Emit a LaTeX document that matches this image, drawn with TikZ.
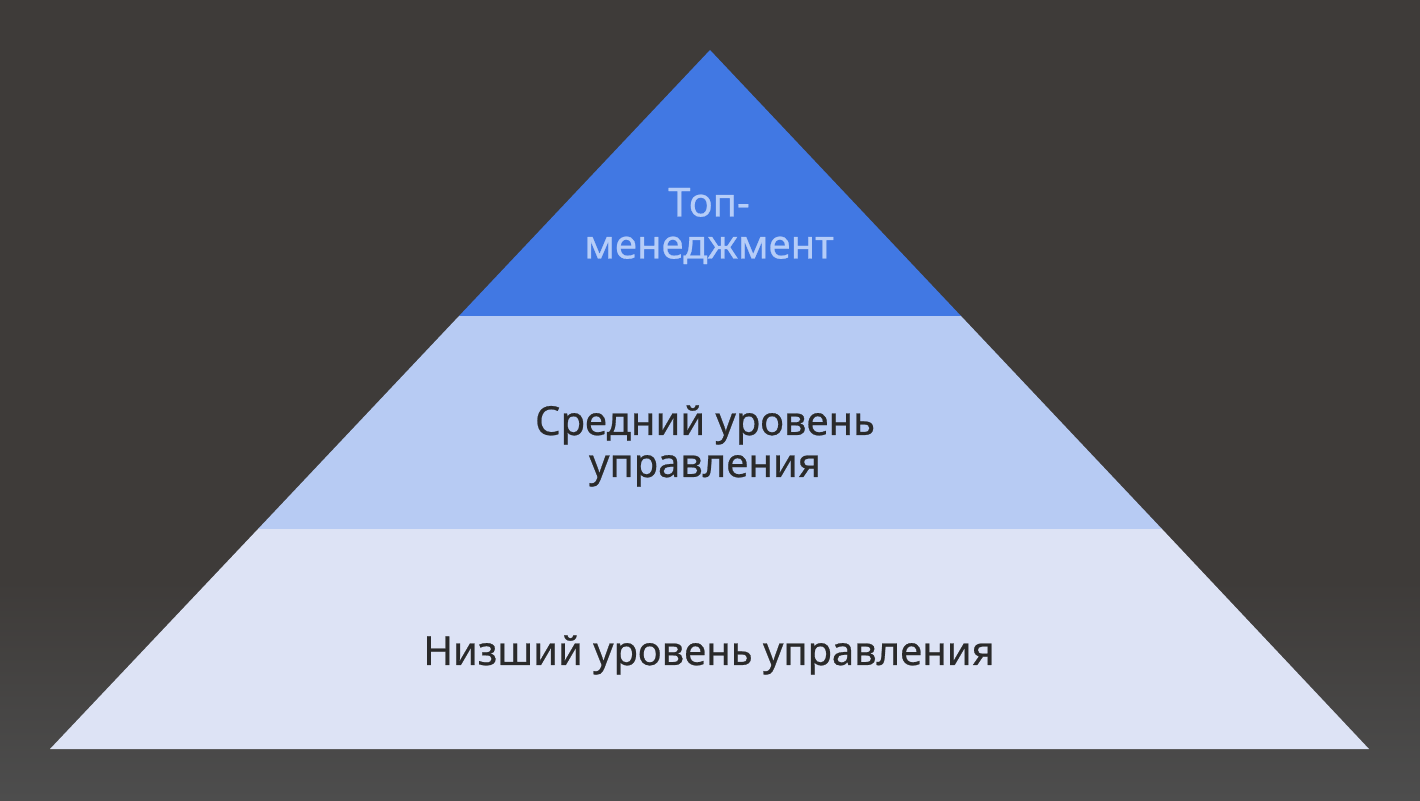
\documentclass[tikz,border=0pt]{standalone}
\usepackage{fontspec}
\setmainfont[FakeBold=0.6]{Noto Sans}
\definecolor{bgtop}{HTML}{3E3B39}
\definecolor{bgbot}{HTML}{4D4D4D}
\definecolor{topband}{HTML}{4178E3}
\definecolor{midband}{HTML}{B7CBF3}
\definecolor{lowband}{HTML}{DDE3F5}
\definecolor{toptext}{HTML}{B6CDF8}
\definecolor{darktext}{HTML}{2A2A2A}
\begin{document}
\begin{tikzpicture}[x=1pt,y=1pt,
  lbl/.style={align=center,font=\fontsize{40}{42}\selectfont,inner sep=0pt}]
\useasboundingbox (0,0) rectangle (1420,800);
\fill[bgtop] (0,0) rectangle (1420,800);
\shade[top color=bgtop,bottom color=bgbot] (0,0) rectangle (1420,220);
% pyramid corners
\coordinate (apex) at (710,750);
\coordinate (bl) at (50,51);
\coordinate (br) at (1369,51);
\coordinate (l1) at (459,484);
\coordinate (r1) at (961,484);
\coordinate (l2) at (258,271);
\coordinate (r2) at (1162,271);
\fill[lowband] (l2) -- (r2) -- (br) -- (bl) -- cycle;
\fill[midband] (l1) -- (r1) -- (r2) -- (l2) -- cycle;
\fill[topband] (apex) -- (r1) -- (l1) -- cycle;
\node[lbl,text=toptext] (top) at (709,574) {Топ-\\менеджмент};
\node[lbl,text=darktext] (mid) at (705,354) {Средний уровень\\управления};
\node[lbl,text=darktext] (low) at (709,145) {Низший уровень управления};
\end{tikzpicture}
\end{document}
